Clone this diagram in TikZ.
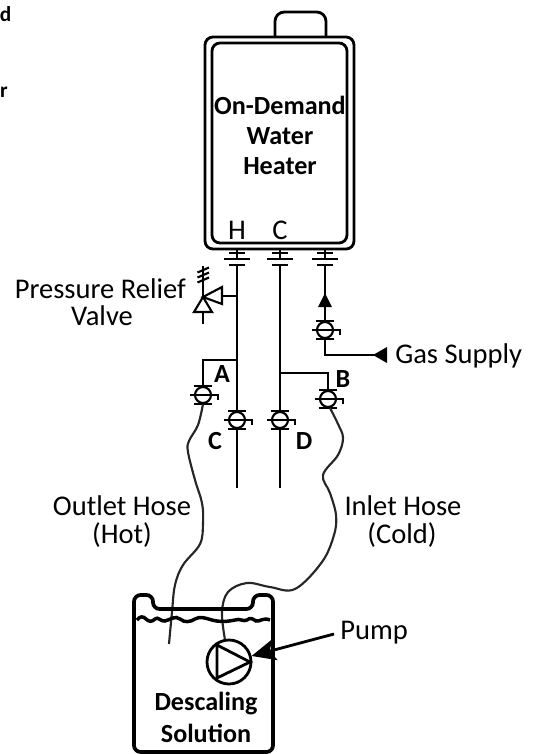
\documentclass[tikz,border=0pt]{standalone}
\usepackage{fontspec}
\setmainfont{Carlito}
\usetikzlibrary{arrows.meta}
\tikzset{
  pipe/.style={line width=2.1pt,black},
  thinpipe/.style={line width=1.6pt,black},
  hose/.style={line width=1.6pt,black!85},
  label/.style={font=\fontsize{21.4}{24}\selectfont,inner sep=0pt},
  boldlabel/.style={font=\fontsize{19.6}{22}\selectfont\bfseries,inner sep=0pt},
  cutlabel/.style={font=\fontsize{16}{20}\selectfont\bfseries,inner sep=0pt,anchor=base east},
}
% valve at a point, handle to the right
\newcommand{\valvesym}[1]{
  \draw[pipe] (#1)++(-9,-9)--++(18,0);
  \draw[pipe] (#1)++(-9,9)--++(18,0);
  \draw[thinpipe,fill=white] (#1) circle (8);
  \draw[thinpipe] (#1)++(-13,0)--++(28,0)--++(0,5);
}
% union under the heater
\newcommand{\unionsym}[1]{
  \draw[thinpipe] (#1,249)--(#1,259);
  \draw[thinpipe] (#1-8,253)--(#1+8,253);
  \draw[thinpipe] (#1-13,259)--(#1+13,259);
  \draw[pipe] (#1-8,265)--(#1+8,265);
}
\begin{document}
\begin{tikzpicture}[x=0.75pt,y=-0.75pt]
  \useasboundingbox (0,0) rectangle (536,754);

  % heater
  \draw[pipe,rounded corners=7] (275,37)--(275,12)--(326,12)--(326,37);
  \draw[pipe,rounded corners=6] (205,37) rectangle (354,249);
  \draw[pipe,rounded corners=6] (212,43) rectangle (347,243);
  \node[boldlabel] (ondemand) at (280,105) {On-Demand};
  \node[boldlabel] (water) at (280,136) {Water};
  \node[boldlabel] (heater) at (280,166) {Heater};
  \node[label] (hot) at (237,230) {H};
  \node[label] (cold) at (280,230) {C};
  \node[cutlabel] (cutd) at (11.5,21) {d};
  \node[cutlabel] (cutr) at (8,97) {r};

  \unionsym{237}
  \unionsym{280}
  \unionsym{325}

  % points on the pipes
  \coordinate (valveA) at (203,395);
  \coordinate (valveB) at (328,399);
  \coordinate (valveC) at (237,420);
  \coordinate (valveD) at (280,420);
  \coordinate (valveG) at (325,330);
  \coordinate (endC) at (237,488);
  \coordinate (endD) at (280,488);

  % hot and cold lines
  \draw[thinpipe] (237,265)--(valveC)--(endC);
  \draw[thinpipe] (280,265)--(valveD)--(endD);
  \draw[pipe] (237,360)-|(valveA);
  \draw[pipe] (280,373)-|(valveB);
  \valvesym{valveA}
  \valvesym{valveB}
  \valvesym{valveC}
  \valvesym{valveD}
  \node[boldlabel] (labA) at (222,374) {A};
  \node[boldlabel] (labB) at (343,379) {B};
  \node[boldlabel] (labC) at (215,441) {C};
  \node[boldlabel] (labD) at (304,441) {D};

  % gas line
  \draw[thinpipe] (325,265)--(valveG);
  \fill (325,293)--(332,307)--(318,307)--cycle;
  \valvesym{valveG}
  \draw[pipe] (325,339)--(325,355)--(378,355);
  \fill (373,355)--(387,347)--(387,363)--cycle;
  \node[label,anchor=west] (gas) at (395,356) {Gas Supply};

  % relief valve
  \draw[thinpipe] (203,297)--(212,312)--(194,312)--cycle;
  \draw[thinpipe] (203,297)--(222,287)--(222,304)--cycle;
  \draw[thinpipe] (222,296)--(237,296);
  \draw[thinpipe] (203,312)--(203,324);
  \draw[thinpipe] (203,297)--(203,266);
  \foreach \s in {270,275,280}
    \draw[thinpipe] (197.5,\s+2.5)--(209,\s-2.5);
  \node[label,anchor=east] (relief) at (186,289) {Pressure Relief};
  \node[label] (reliefb) at (102,316) {Valve};

  % hoses
  \draw[hose] plot[smooth,tension=0.6] coordinates {(203,404) (198,425) (189,441) (188,452) (195,480) (202,503) (203,523) (200,544) (183,565) (175,585) (172,612) (169,644)};
  \draw[hose] plot[smooth,tension=0.6] coordinates {(330,408) (338,424) (343,438) (338,455) (323,475) (330,493) (336,515) (334,535) (322,562) (295,589) (270,587) (247,583) (228,592) (222,612) (225,640)};
  \node[label] (outlet) at (122,506) {Outlet Hose};
  \node[label] (outletb) at (122,535) {(Hot)};
  \node[label] (inlet) at (403,506) {Inlet Hose};
  \node[label] (inletb) at (402,535) {(Cold)};

  % tank
  \draw[line width=2.8pt,rounded corners=5] (153,609)--(153,595)--(134,595)--(134,752)--(273,752)--(273,595)--(253,595)--(253,609)--cycle;
  \draw[line width=2.6pt] (137,620) .. controls (140,616) and (143,616) .. (146,619)
    .. controls (149,622) and (152,622) .. (155,619)
    .. controls (158,616) and (161,622) .. (165,621)
    .. controls (170,620) and (175,615) .. (180,619)
    .. controls (185,623) and (190,622) .. (195,619)
    .. controls (200,616) and (205,618) .. (212,620)
    .. controls (220,622) and (225,622) .. (235,620)
    .. controls (240,618) and (243,622) .. (247,620)
    .. controls (250,617) and (253,619) .. (256,621)
    .. controls (260,622) and (263,617) .. (270,620);
  \node[circle,draw,line width=2.1pt,minimum size=33pt,inner sep=0pt] (pump) at (229,662) {};
  \draw[pipe,line join=miter] (217,645)--(250,662)--(217,678)--cycle;
  \node[boldlabel] (descaling) at (206,704) {Descaling};
  \node[boldlabel] (solution) at (206,733) {Solution};
  \node[label,anchor=west] (pumplab) at (340,633) {Pump};
  \draw[pipe,-{Stealth[length=18pt,width=16pt,inset=4pt]}] (pumplab.west)++(-6,1)--(pump);
\end{tikzpicture}
\end{document}
